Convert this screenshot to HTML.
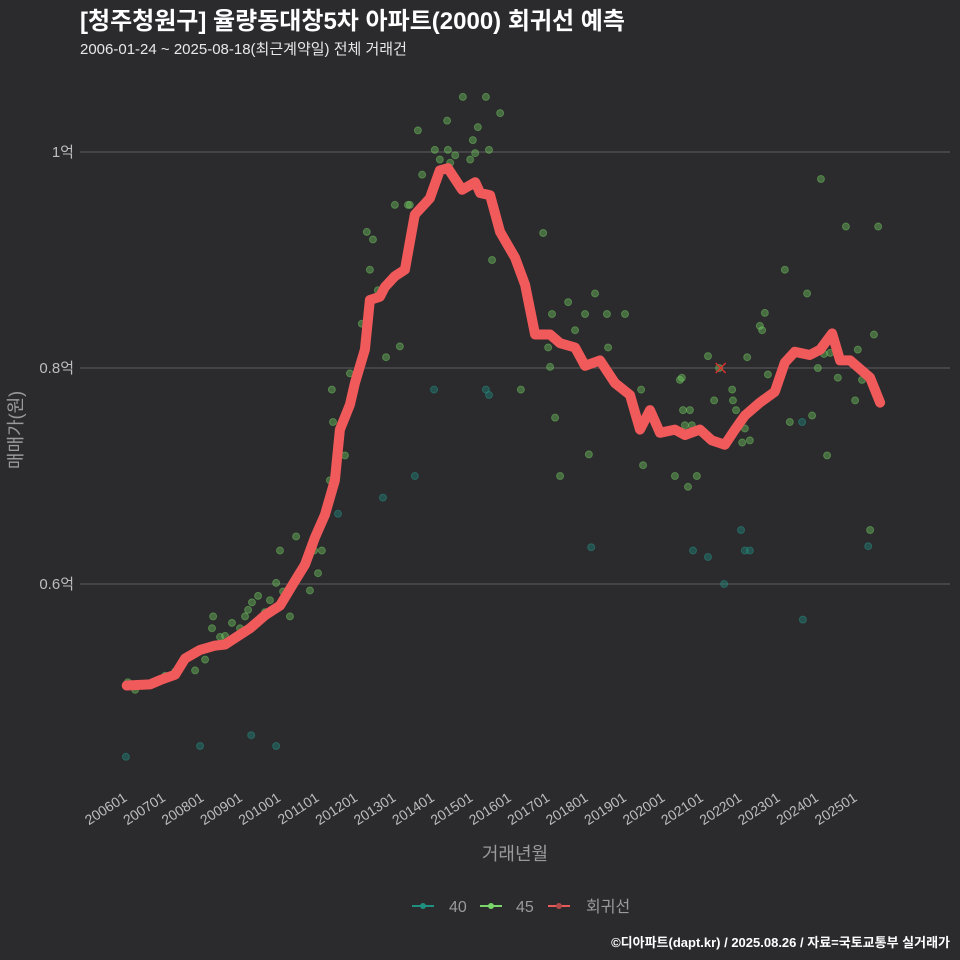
<!DOCTYPE html>
<html><head><meta charset="utf-8"><style>
html,body{margin:0;padding:0;background:#2b2a2d;}
svg{display:block;font-family:"Liberation Sans","Noto Sans CJK KR",sans-serif;}
</style></head><body>
<svg id="chart" width="960" height="960" viewBox="0 0 960 960" xmlns="http://www.w3.org/2000/svg">
<rect width="960" height="960" fill="#2b2a2d"/>
<text x="80" y="29" fill="#ffffff" font-size="24" font-weight="bold">[청주청원구] 율량동대창5차 아파트(2000) 회귀선 예측</text>
<text x="80" y="54" fill="#e8e8e8" font-size="15">2006-01-24 ~ 2025-08-18(최근계약일) 전체 거래건</text>
<g id="grid"></g>
<g id="xticks"></g>
<g id="pts40"></g>
<g id="pts45"></g>
<g id="trend"></g>
<text x="515" y="860" fill="#9a9a9a" font-size="18" text-anchor="middle">거래년월</text>
<text transform="translate(22,430) rotate(-90)" fill="#9a9a9a" font-size="18" text-anchor="middle">매매가(원)</text>
<g>
 <g><line x1="412" y1="906" x2="434" y2="906" stroke="#1f8f80" stroke-width="2"/><circle cx="423" cy="906" r="3" fill="#1f8f80"/><text x="449" y="912" fill="#9a9a9a" font-size="16">40</text></g>
 <g><line x1="480" y1="906" x2="502" y2="906" stroke="#7ad66a" stroke-width="2"/><circle cx="491" cy="906" r="3" fill="#7ad66a"/><text x="516" y="912" fill="#9a9a9a" font-size="16">45</text></g>
 <g><line x1="548" y1="906" x2="570" y2="906" stroke="#e85a5a" stroke-width="2"/><circle cx="559" cy="906" r="3" fill="#b04848"/><text x="586" y="912" fill="#9a9a9a" font-size="16">회귀선</text></g>
</g>
<text x="950" y="947" fill="#ffffff" font-size="13" font-weight="bold" text-anchor="end">©디아파트(dapt.kr) / 2025.08.26 / 자료=국토교통부 실거래가</text>
</svg>
<script>
const yTicks=[0.6,0.8,1.0];
const yTickLabels=["0.6억","0.8억","1억"];
const xTickYears=[2006,2007,2008,2009,2010,2011,2012,2013,2014,2015,2016,2017,2018,2019,2020,2021,2022,2023,2024,2025];
const xTickLabels=["200601","200701","200801","200901","201001","201101","201201","201301","201401","201501","201601","201701","201801","201901","202001","202101","202201","202301","202401","202501"];
const trendT=[2006.07,2006.68,2006.94,2007.33,2007.59,2007.98,2008.37,2008.63,2008.89,2009.28,2009.67,2010.06,2010.45,2010.71,2010.97,2011.23,2011.49,2011.62,2011.88,2012.01,2012.27,2012.40,2012.66,2012.79,2013.05,2013.31,2013.57,2013.96,2014.22,2014.43,2014.80,2015.14,2015.27,2015.53,2015.79,2016.18,2016.44,2016.70,2017.09,2017.35,2017.74,2018.00,2018.39,2018.78,2019.17,2019.43,2019.69,2019.95,2020.34,2020.60,2020.99,2021.30,2021.64,2021.90,2022.16,2022.55,2022.94,2023.20,2023.46,2023.85,2024.12,2024.43,2024.64,2024.90,2025.42,2025.68];
const trendV=[0.506,0.507,0.511,0.516,0.531,0.539,0.543,0.544,0.550,0.559,0.571,0.580,0.603,0.618,0.643,0.664,0.696,0.743,0.766,0.786,0.817,0.863,0.866,0.875,0.885,0.891,0.942,0.957,0.983,0.985,0.965,0.972,0.962,0.960,0.926,0.902,0.877,0.831,0.831,0.823,0.819,0.802,0.807,0.786,0.775,0.743,0.761,0.740,0.743,0.738,0.743,0.733,0.729,0.743,0.756,0.768,0.778,0.805,0.815,0.812,0.817,0.832,0.807,0.807,0.791,0.768];
const s45T=[2006.10,2006.29,2007.07,2007.33,2007.85,2008.11,2008.29,2008.32,2008.50,2008.63,2008.81,2009.02,2009.15,2009.23,2009.33,2009.49,2009.67,2009.80,2009.96,2010.06,2010.14,2010.32,2010.48,2010.84,2010.95,2011.05,2011.15,2011.36,2011.41,2011.44,2011.75,2011.88,2012.19,2012.32,2012.40,2012.48,2012.61,2012.82,2013.05,2013.18,2013.39,2013.44,2013.65,2013.76,2013.96,2014.09,2014.22,2014.41,2014.43,2014.49,2014.62,2014.82,2015.01,2015.08,2015.14,2015.21,2015.42,2015.50,2015.58,2015.79,2016.33,2016.91,2017.04,2017.09,2017.14,2017.22,2017.35,2017.56,2017.74,2018.00,2018.10,2018.26,2018.57,2018.60,2019.04,2019.46,2019.51,2020.34,2020.47,2020.52,2020.55,2020.60,2020.68,2020.73,2020.78,2020.91,2021.20,2021.36,2021.49,2021.83,2021.85,2021.93,2022.09,2022.16,2022.22,2022.29,2022.55,2022.61,2022.68,2022.76,2023.20,2023.33,2023.78,2023.86,2023.91,2024.06,2024.14,2024.22,2024.30,2024.38,2024.58,2024.79,2025.03,2025.10,2025.21,2025.42,2025.52,2025.63];
const s45V=[0.509,0.502,0.515,0.519,0.520,0.530,0.559,0.570,0.551,0.552,0.564,0.559,0.570,0.576,0.583,0.589,0.574,0.585,0.601,0.631,0.593,0.570,0.644,0.594,0.631,0.610,0.631,0.696,0.780,0.750,0.719,0.795,0.841,0.926,0.891,0.919,0.872,0.810,0.951,0.820,0.951,0.951,1.020,0.979,0.958,1.002,0.993,1.029,1.002,0.990,0.997,1.051,0.993,1.011,0.999,1.023,1.051,1.002,0.900,1.036,0.780,0.925,0.819,0.801,0.850,0.754,0.700,0.861,0.835,0.850,0.720,0.869,0.850,0.819,0.850,0.780,0.710,0.700,0.789,0.791,0.761,0.747,0.690,0.761,0.747,0.700,0.811,0.770,0.800,0.780,0.770,0.761,0.731,0.744,0.810,0.733,0.839,0.835,0.851,0.794,0.891,0.750,0.869,0.813,0.756,0.800,0.975,0.813,0.719,0.814,0.791,0.931,0.770,0.817,0.789,0.650,0.831,0.931];
const s40T=[2006.05,2007.98,2009.31,2009.96,2011.57,2012.74,2013.57,2014.07,2015.42,2015.50,2018.16,2020.81,2021.20,2021.62,2022.06,2022.16,2022.29,2023.67,2023.65,2025.37];
const s40V=[0.440,0.450,0.460,0.450,0.665,0.680,0.700,0.780,0.780,0.775,0.634,0.631,0.625,0.600,0.650,0.631,0.631,0.567,0.750,0.635];
const predT=[2021.53];
const predV=[0.800];

const NS="http://www.w3.org/2000/svg";
const X0=80,X1=950,Y0=70,Y1=792;
function xs(t){return 124+(t-2006)*38.42;}
function ys(v){return 368-(v-0.8)*1080;}
function mk(tag,attrs,parent){const e=document.createElementNS(NS,tag);for(const k in attrs)e.setAttribute(k,attrs[k]);parent.appendChild(e);return e;}

const grid=document.getElementById('grid');
yTicks.forEach((v,i)=>{
  const l=mk('line',{x1:X0,x2:X1,y1:ys(v),y2:ys(v),stroke:'#5e5e5e','stroke-width':1},grid);
  
  
  const t=mk('text',{x:74,y:ys(v)+5,fill:'#bdbdbd','font-size':15,'text-anchor':'end'},grid);
  t.textContent=yTickLabels[i];
  
  
});
const xt=document.getElementById('xticks');
xTickYears.forEach((yr,i)=>{
  const x=xs(yr)+4;
  const y=Y1+8;
  const t=mk('text',{x:x,y:y,fill:'#bdbdbd','font-size':14,'text-anchor':'end',transform:`rotate(-33 ${x} ${y})`},xt);
  t.textContent=xTickLabels[i];
  
  
});
const g40=document.getElementById('pts40');
s40T.forEach((t,i)=>{
  const c=mk('circle',{cx:xs(t),cy:ys(s40V[i]),r:3.5,fill:'#1f8f80','fill-opacity':0.4,stroke:'#2aa090','stroke-opacity':0.4},g40);
  
  
});
const g45=document.getElementById('pts45');
s45T.forEach((t,i)=>{
  const c=mk('circle',{cx:xs(t),cy:ys(s45V[i]),r:3.5,fill:'#6fc85e','fill-opacity':0.42,stroke:'#7ad66a','stroke-opacity':0.4},g45);
  
  
});
const tr=document.getElementById('trend');
const d=trendT.map((t,i)=>(i?'L':'M')+xs(t).toFixed(1)+' '+ys(trendV[i]).toFixed(1)).join(' ');
const p=mk('path',{d:d,fill:'none',stroke:'#f05a5a','stroke-width':10,'stroke-linejoin':'round','stroke-linecap':'round'},tr);


predT.forEach((t,i)=>{
  const x=xs(t),y=ys(predV[i]);
  const m=mk('path',{d:`M${x-5} ${y-5}L${x+5} ${y+5}M${x-5} ${y+5}L${x+5} ${y-5}`,stroke:'#e03030','stroke-width':1.5},tr);
  
  
});
</script>
</body></html>
